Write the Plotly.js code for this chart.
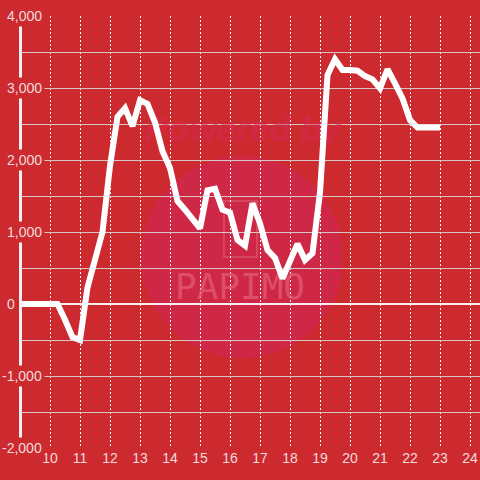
<!DOCTYPE html>
<html><head><meta charset="utf-8">
<script src="https://cdn.plot.ly/plotly-3.0.1.min.js"></script>
<style>html,body{margin:0;padding:0;background:#cd2a30;}#chart{width:480px;height:480px;}</style>
</head><body><div id="chart"></div>
<script>
const hours = [9, 9.25, 9.5, 9.75, 10, 10.25, 10.5, 10.75, 11, 11.25, 11.5, 11.75,
  12, 12.25, 12.5, 12.75, 13, 13.25, 13.5, 13.75, 14, 14.25, 14.5, 14.75,
  15, 15.25, 15.5, 15.75, 16, 16.25, 16.5, 16.75, 17, 17.25, 17.5, 17.75,
  18, 18.25, 18.5, 18.75, 19, 19.25, 19.5, 19.75, 20, 20.25, 20.5, 20.75,
  21, 21.25, 21.5, 21.75, 22, 22.25, 22.5, 22.75, 23];
const values = [0, 0, 0, 0, 0, 0, -220, -460, -500, 230, 615, 1000,
  1920, 2600, 2720, 2470, 2830, 2780, 2520, 2120, 1890, 1430, 1310, 1190,
  1050, 1580, 1600, 1310, 1270, 890, 810, 1400, 1120, 750, 640, 355,
  590, 835, 610, 705, 1550, 3180, 3400, 3250, 3250, 3240, 3165, 3120,
  2995, 3260, 3065, 2855, 2555, 2450, 2450, 2450, 2450];
const xTicks = [10, 11, 12, 13, 14, 15, 16, 17, 18, 19, 20, 21, 22, 23, 24];
const yLabels = [-2000, -1000, 0, 1000, 2000, 3000, 4000];
const yGrid = [-2000, -1500, -1000, -500, 0, 500, 1000, 1500, 2000, 2500, 3000, 3500, 4000];
const watermarkTexts = ['<b><i>Powered by</i></b>', 'PAPIMO'];

const BG = '#cd2a30';
const W = 480, H = 480, ML = 20, MR = 0, MT = 16, MB = 32;
const PW = W - ML - MR, PH = H - MT - MB;
const px = v => (v - ML) / PW;          // pixel x -> paper x
const py = v => (H - MB - v) / PH;      // pixel y -> paper y
const X0 = 9, XPX = 30, Y0PX = 304, YPX = 72 / 1000;
const dataX = p => X0 + (p - ML) / XPX;     // pixel -> data (watermark placement only)
const dataY = p => (Y0PX - p) / YPX;
const labelFont = {family: 'Liberation Sans, Arial, sans-serif', size: 14, color: '#f3dada'};

const annotations = yLabels.map(v => ({
  xref: 'paper', yref: 'y', x: px(v === 0 ? 18 : 45), y: v,
  xanchor: 'right', yanchor: 'middle', showarrow: false,
  text: v.toLocaleString('en-US'), font: labelFont,
  bgcolor: BG, borderpad: 2
}));

const shapes = [
  {type: 'circle', xref: 'paper', yref: 'paper', layer: 'below',
   x0: px(141), x1: px(343), y0: py(358), y1: py(156),
   fillcolor: '#cf2847', line: {width: 0}},
  {type: 'rect', xref: 'paper', yref: 'paper', layer: 'below',
   x0: px(224), x1: px(257), y0: py(257), y1: py(201),
   line: {color: '#d6475f', width: 2}},
  {type: 'line', xref: 'paper', yref: 'paper', layer: 'above',
   x0: px(20.5), x1: px(20.5), y0: py(438), y1: py(22),
   line: {color: '#f5f0f0', width: 3}}
];

const watermark = {
  x: [dataX(243), dataX(240)], y: [dataY(132), dataY(290)],
  type: 'scatter', mode: 'text', text: watermarkTexts, textposition: 'middle center',
  textfont: {family: ['Liberation Sans, Arial', 'DejaVu Sans Mono, monospace'],
             size: [35, 36], color: ['rgba(214,40,85,0.55)', 'rgba(226,92,115,0.75)']},
  hoverinfo: 'skip'
};

Plotly.newPlot('chart', [watermark, {
  x: hours, y: values, type: 'scatter', mode: 'lines',
  line: {color: '#ffffff', width: 6}, hoverinfo: 'skip'
}], {
  width: W, height: H,
  margin: {l: ML, r: MR, t: MT, b: MB, pad: 0},
  paper_bgcolor: BG, plot_bgcolor: BG,
  showlegend: false,
  xaxis: {range: [9, 9 + PW / 30], tickvals: xTicks, ticktext: xTicks.map(String),
    showgrid: true, gridcolor: '#ffffff', gridwidth: 1, griddash: '2px,2px',
    zeroline: false, showline: false, ticks: '', tickfont: labelFont, fixedrange: true},
  yaxis: {range: [-2000, 4000], tickvals: yGrid, showticklabels: false,
    showgrid: true, gridcolor: '#d6c6c6', gridwidth: 1,
    zeroline: true, zerolinecolor: '#f5f0f0', zerolinewidth: 2.5,
    showline: false, ticks: '', fixedrange: true},
  annotations: annotations,
  shapes: shapes
}, {displayModeBar: false, staticPlot: true});
</script>
</body></html>
